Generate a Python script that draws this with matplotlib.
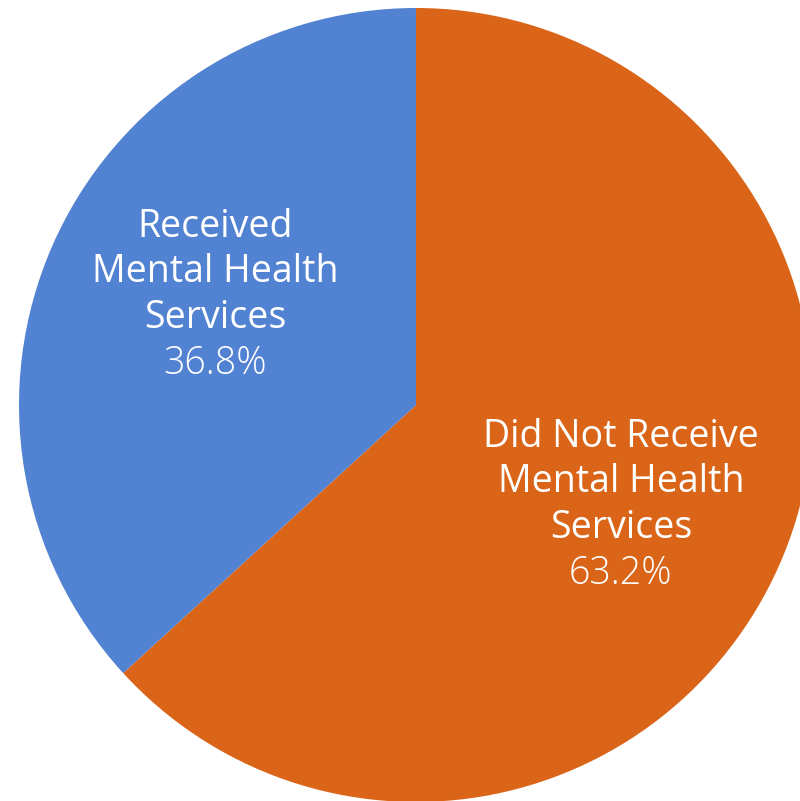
import matplotlib
matplotlib.use("Agg")
import matplotlib.pyplot as plt

# ── Data ──────────────────────────────────────────────────────────────
labels = ["Did Not Receive\nMental Health\nServices", "Received\nMental Health\nServices"]
shares = [63.2, 36.8]
colors = ["#DA6519", "#5282D2"]

# baseline of last label line (data coords, radius-1 pie)
label_pos = [(0.516, -0.335), (-0.506, 0.194)]
PCT_GAP = 0.117

fig = plt.figure(figsize=(8.0, 8.01), dpi=100)
ax = fig.add_axes([0, 0, 1, 1])

ax.pie(shares, colors=colors, startangle=90, counterclock=False,
       radius=1.0, center=(0, 0), wedgeprops=dict(linewidth=0))

# same px/unit on both axes → circle stays round, right edge clipped
ax.set_aspect("auto")
ax.set_xlim(-416 / 397, (800 - 416) / 397)
ax.set_ylim((405 - 801) / 397, 405 / 397)
ax.axis("off")

for lab, pct, (x, y) in zip(labels, shares, label_pos):
    ax.text(x, y, lab, ha="center", va="baseline", color="white",
            fontsize=27, family="Open Sans", linespacing=1.26)
    ax.text(x, y - PCT_GAP, f"{pct:.1f}%", ha="center", va="baseline",
            color="white", fontsize=27, family="Open Sans", fontweight="light")

fig.savefig("out.png", dpi=100)
